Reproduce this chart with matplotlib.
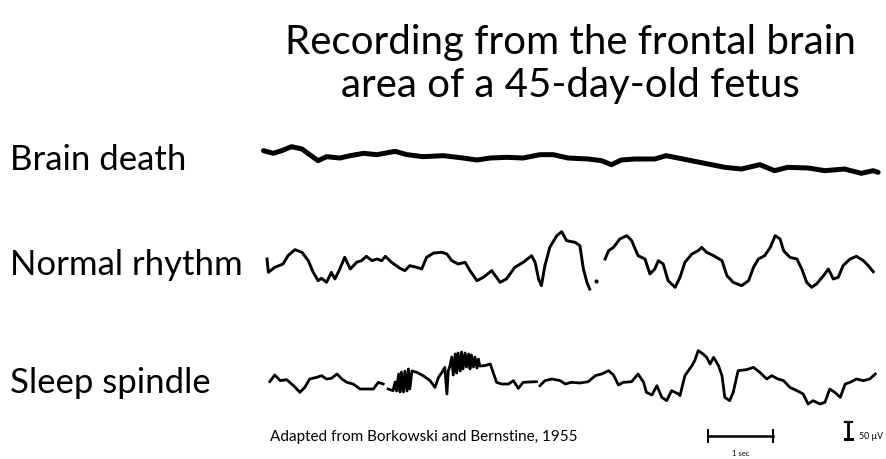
import numpy as np
import matplotlib
matplotlib.use("Agg")
import matplotlib.pyplot as plt

plt.rcParams["font.family"] = ["Lato", "DejaVu Sans"]

nan = np.nan

# traces: time in seconds, amplitude in microvolts
death_t = [0.05, 0.19, 0.31, 0.45, 0.60, 0.71, 0.83, 0.95, 1.14, 1.29, 1.48, 1.67, 1.93, 2.10,
           2.33, 2.62, 2.90, 3.10, 3.29, 3.52, 3.76, 4.00, 4.19, 4.40, 4.69, 4.88, 5.02, 5.16,
           5.35, 5.64, 5.80, 5.97, 6.21, 6.45, 6.64, 6.88, 7.14, 7.35, 7.54, 7.83, 8.07, 8.35,
           8.59, 8.76, 8.83]
death_uv = [25, 17, 25, 37, 30, 13, -5, 7, 3, 10, 17, 13, 23, 13,
            7, 10, 3, -3, 3, 5, 3, 13, 13, 3, 0, -5, -17, -3,
            0, 0, 10, 3, -7, -17, -25, -30, -17, -35, -25, -27, -35, -30,
            -43, -35, -40]

normal_t = [0.10, 0.12, 0.21, 0.33, 0.40, 0.50, 0.60, 0.69, 0.76, 0.83, 0.88, 0.95, 1.02, 1.07,
            1.14, 1.21, 1.29, 1.38, 1.45, 1.52, 1.60, 1.67, 1.74, 1.79, 1.88, 2.00, 2.07, 2.14,
            2.24, 2.31, 2.38, 2.48, 2.60, 2.67, 2.74, 2.83, 2.93, 3.00, 3.10, 3.19, 3.31, 3.43,
            3.52, 3.64, 3.76, 3.88, 3.93, 3.98, 4.02, 4.07, 4.14, 4.24, 4.31, 4.38, 4.50, 4.57,
            4.62, 4.67, 4.71, 4.75,
            4.93, 4.98, 5.05, 5.14, 5.24, 5.31, 5.40, 5.50, 5.57, 5.64, 5.69, 5.76, 5.83, 5.93,
            6.00, 6.07, 6.17, 6.26, 6.31, 6.38, 6.48, 6.60, 6.67, 6.76, 6.88, 6.98, 7.05, 7.12,
            7.21, 7.29, 7.36, 7.43, 7.48, 7.57, 7.67, 7.74, 7.81, 7.88, 7.95, 8.05, 8.12, 8.19,
            8.26, 8.33, 8.43, 8.52, 8.62, 8.69, 8.76]
normal_uv = [15, -25, -10, 0, 25, 43, 35, 10, -25, -50, -43, -55, -25, -45,
             -15, 20, -15, 5, 10, 23, 10, 15, 10, 23, 5, -13, -20, -5,
             -10, -15, 20, 33, 35, 30, 10, 0, 5, -20, -50, -40, -20, -55,
             -45, -10, 5, 25, 5, -45, -65, -5, 50, 85, 97, 70, 65, 55,
             -15, -55, -75, nan,
             15, 40, 50, 75, 85, 70, 25, 15, -30, -15, 10, 0, -50, -70,
             -40, 5, 30, 40, 50, 35, 25, 10, -35, -55, -65, -50, -10, 15,
             25, 50, 85, 75, 40, 20, 15, -15, -55, -70, -60, -35, -15, -45,
             -40, -5, 15, 23, 10, -5, -23]
normal_dot_t = [4.80]
normal_dot_uv = [-50]

spindle_t = [0.14, 0.21, 0.29, 0.38, 0.48, 0.57, 0.64, 0.71, 0.81, 0.88, 0.95, 1.02, 1.10, 1.17,
             1.24, 1.33, 1.43, 1.62, 1.69, 1.76, 1.80,
             1.83, 1.90, 1.93, 1.95, 1.98, 2.00, 2.02, 2.05, 2.07, 2.10, 2.12, 2.14, 2.17, 2.24,
             2.33, 2.43, 2.50, 2.55, 2.60, 2.64, 2.67, 2.69, 2.71, 2.74, 2.76, 2.79, 2.81, 2.83,
             2.86, 2.88, 2.90, 2.93, 2.95, 2.98, 3.00, 3.02, 3.05, 3.07, 3.10, 3.12, 3.14, 3.21,
             3.29, 3.33, 3.38, 3.45, 3.55, 3.62, 3.69, 3.76, 3.95, 3.97,
             4.00, 4.07, 4.17, 4.29, 4.36, 4.45, 4.57, 4.69, 4.79, 4.88, 4.98, 5.05, 5.12, 5.19,
             5.31, 5.40, 5.48, 5.52, 5.60, 5.67, 5.74, 5.81, 5.88, 5.98, 6.00, 6.07, 6.17, 6.21,
             6.26, 6.33, 6.38, 6.43, 6.48, 6.55, 6.60, 6.64, 6.71, 6.76, 6.83, 6.95, 7.05, 7.14,
             7.24, 7.31, 7.40, 7.48, 7.57, 7.67, 7.76, 7.83, 7.90, 8.00, 8.07, 8.14, 8.21, 8.29,
             8.36, 8.43, 8.52, 8.62, 8.71, 8.79]
spindle_uv = [1, 21, 4, 7, -11, -31, -16, 9, 14, 19, 9, 11, 24, 9,
              -1, -6, -21, -21, -1, -6, nan,
              -21, -26, 0, -27, 24, -30, 30, -30, 33, -27, 39, -21, 33, 29,
              19, 4, -16, 14, 29, 44, -36, 34, 45, 75, 21, 84, 27, 87,
              33, 90, 39, 87, 45, 84, 39, 81, 45, 75, 42, 69, 48, 49,
              54, 29, -1, -6, -6, 4, -19, -1, 1, nan,
              -11, 4, 9, 4, -6, -1, -3, 1, 19, 24, 34, 21, -9, -1,
              1, 24, -1, -31, -39, -11, -46, -56, -26, -36, -41, 19, 49, 64,
              94, 84, 74, 54, 74, 49, 19, -46, -56, -31, 34, 37, 44, 29,
              9, 19, 9, 4, -16, -26, -36, -66, -56, -66, -61, -21, -31, -46,
              -6, -1, 9, 4, 9, 24]

scale_sec = 1.0
scale_uv = 50

W, H = 886, 460
fig = plt.figure(figsize=(W / 100, H / 100), dpi=100)
fig.patch.set_facecolor("white")


def px_axes(x0, y0, x1, y1):
    # axes placed by pixel box of the slide (top-left origin)
    return fig.add_axes([x0 / W, 1 - y1 / H, (x1 - x0) / W, (y1 - y0) / H])


t_lim = (-10 / 70, 626 / 70)

ax1 = px_axes(250, 130, 886, 190)
ax1.plot(death_t, death_uv, color="black", lw=3.6, solid_capstyle="round", solid_joinstyle="round")
ax1.set_ylim(-90, 90)

ax2 = px_axes(250, 220, 886, 310)
ax2.plot(normal_t, normal_uv, color="black", lw=2.1, solid_joinstyle="round")
ax2.plot(normal_dot_t, normal_dot_uv, "o", color="black", ms=2)
ax2.set_ylim(-135, 135)

ax3 = px_axes(250, 340, 886, 420)
ax3.plot(spindle_t, spindle_uv, color="black", lw=2.0, solid_joinstyle="round")
ax3.set_ylim(-111, 129)

# calibration bars
ax4 = px_axes(250, 420, 886, 460)
ax4.set_ylim(0, 120)
bar_t0 = 6.4
ax4.plot([bar_t0, bar_t0 + scale_sec * 0.93], [69, 69], color="black", lw=1.8)
ax4.plot([bar_t0, bar_t0], [51, 87], color="black", lw=1.4)
ax4.plot([bar_t0 + scale_sec * 0.93] * 2, [51, 87], color="black", lw=1.4)
ax4.text(bar_t0 + scale_sec * 0.93 / 2, 20, "1 sec", ha="center", va="center", fontsize=5.5)
bar_x = 8.4
ax4.plot([bar_x, bar_x], [60, 60 + scale_uv], color="black", lw=2.0)
ax4.plot([bar_x - 0.05, bar_x + 0.05], [60 + scale_uv] * 2, color="black", lw=1.6)
ax4.plot([bar_x - 0.05, bar_x + 0.05], [60, 60], color="black", lw=2.2)
ax4.text(8.9, 69, f"{scale_uv} µV", ha="right", va="center", fontsize=6.3)

for ax in (ax1, ax2, ax3, ax4):
    ax.set_xlim(*t_lim)
    ax.axis("off")

fig.text(570 / W, 1 - 64 / H, "Recording from the frontal brain\narea of a 45-day-old fetus",
         ha="center", va="center", fontsize=29, linespacing=1.2)
fig.text(10 / W, 1 - 160 / H, "Brain death", ha="left", va="center", fontsize=25)
fig.text(10 / W, 1 - 265 / H, "Normal rhythm", ha="left", va="center", fontsize=25)
fig.text(10 / W, 1 - 383 / H, "Sleep spindle", ha="left", va="center", fontsize=25)
fig.text(270 / W, 1 - 437 / H, "Adapted from Borkowski and Bernstine, 1955",
         ha="left", va="center", fontsize=11)

fig.savefig("out.png", dpi=100)
